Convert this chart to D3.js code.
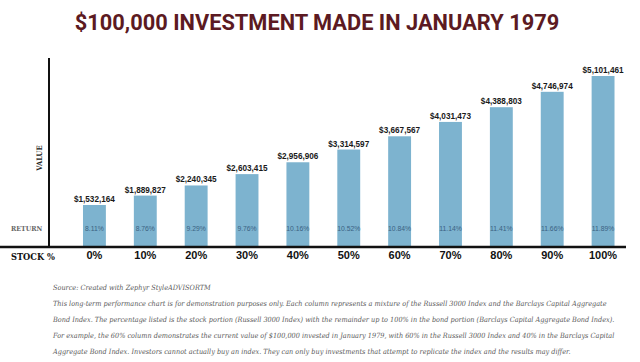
<!DOCTYPE html>
<html>
<head>
<meta charset="utf-8">
<script src="https://cdn.jsdelivr.net/npm/d3@7"></script>
<style>
  body { margin: 0; background: #fff; }
  svg { display: block; }
</style>
</head>
<body>
<div id="chart"></div>
<script>
// Stock allocation categories, ending values and annualized returns
const stockPct = ["0%", "10%", "20%", "30%", "40%", "50%", "60%", "70%", "80%", "90%", "100%"];
const endValues = [1532164, 1889827, 2240345, 2603415, 2956906, 3314597, 3667567, 4031473, 4388803, 4746974, 5101461];
const returns = [8.11, 8.76, 9.29, 9.76, 10.16, 10.52, 10.84, 11.14, 11.41, 11.66, 11.89];

const title = "$100,000 INVESTMENT MADE IN JANUARY 1979";
const notes = [
    "Source: Created with Zephyr StyleADVISORTM",
    "This long-term performance chart is for demonstration purposes only. Each column represents a mixture of the Russell 3000 Index and the Barclays Capital Aggregate",
    "Bond Index. The percentage listed is the stock portion (Russell 3000 Index) with the remainder up to 100% in the bond portion (Barclays Capital Aggregate Bond Index).",
    "For example, the 60% column demonstrates the current value of $100,000 invested in January 1979, with 60% in the Russell 3000 Index and 40% in the Barclays Capital",
    "Aggregate Bond Index. Investors cannot actually buy an index. They can only buy investments that attempt to replicate the index and the results may differ."
];

const W = 640, H = 362;
const baseY = 247;

const svg = d3.select("#chart")
              .append("svg")
              .attr("width", W)
              .attr("height", H);

const data = stockPct.map((s, i) => ({stock: s, value: endValues[i], ret: returns[i]}));

const x = d3.scaleBand()
            .domain(stockPct)
            .range([69, 628.5])
            .paddingInner(0.55)
            .paddingOuter(0.275);

// the original columns grow a bit faster than linear
const y = d3.scalePow()
            .exponent(1.5)
            .domain([0, d3.max(endValues)])
            .range([230.4, 76]);

// title
svg.append("text")
   .attr("x", 317)
   .attr("y", 29.5)
   .attr("text-anchor", "middle")
   .attr("font-family", "Roboto, 'Liberation Sans', sans-serif")
   .attr("font-weight", "bold")
   .attr("font-size", 21.8)
   .attr("fill", "#5c1a22")
   .text(title);

// bars
svg.selectAll("rect.bar")
   .data(data)
   .enter()
   .append("rect")
   .attr("class", "bar")
   .attr("x", d => x(d.stock))
   .attr("y", d => y(d.value))
   .attr("width", x.bandwidth())
   .attr("height", d => baseY - y(d.value))
   .attr("fill", "#7db3cf");

// value labels
svg.selectAll("text.val")
   .data(data)
   .enter()
   .append("text")
   .attr("class", "val")
   .attr("x", d => x(d.stock) + x.bandwidth() / 2)
   .attr("y", d => y(d.value) - 3)
   .attr("text-anchor", "middle")
   .attr("font-family", "'Liberation Sans', sans-serif")
   .attr("font-weight", "bold")
   .attr("font-size", 8.2)
   .attr("fill", "#1a1a1a")
   .text(d => d3.format("$,")(d.value));

// return labels inside bars
svg.selectAll("text.ret")
   .data(data)
   .enter()
   .append("text")
   .attr("class", "ret")
   .attr("x", d => x(d.stock) + x.bandwidth() / 2)
   .attr("y", 230.5)
   .attr("text-anchor", "middle")
   .attr("font-family", "'Liberation Sans', sans-serif")
   .attr("font-size", 6.8)
   .attr("fill", "#3b6282")
   .text(d => d.ret.toFixed(2) + "%");

// axes lines
svg.append("line")
   .attr("x1", 49).attr("x2", 49)
   .attr("y1", 58).attr("y2", baseY)
   .attr("stroke", "#111")
   .attr("stroke-width", 2);

const xAxis = svg.append("g")
                 .attr("transform", `translate(0,${baseY})`)
                 .call(d3.axisBottom(x).tickSize(0).tickPadding(4.5));
xAxis.select(".domain").remove();
xAxis.selectAll("text")
     .attr("font-family", "'Liberation Sans', sans-serif")
     .attr("font-weight", "bold")
     .attr("font-size", 11)
     .attr("fill", "#111");

svg.append("line")
   .attr("x1", 0).attr("x2", 626)
   .attr("y1", baseY).attr("y2", baseY)
   .attr("stroke", "#111")
   .attr("stroke-width", 2.6);

// row labels
svg.append("text")
   .attr("x", 11)
   .attr("y", 259.5)
   .attr("font-family", "'DejaVu Serif Condensed', 'DejaVu Serif', serif")
   .attr("font-weight", "bold")
   .attr("font-size", 9.2)
   .attr("fill", "#111")
   .text("STOCK %");

svg.append("text")
   .attr("x", 11)
   .attr("y", 231)
   .attr("font-family", "'DejaVu Serif Condensed', 'DejaVu Serif', serif")
   .attr("font-weight", "bold")
   .attr("font-size", 7)
   .attr("fill", "#666")
   .text("RETURN");

svg.append("text")
   .attr("transform", "translate(42,158) rotate(-90)")
   .attr("text-anchor", "middle")
   .attr("font-family", "'DejaVu Serif Condensed', 'DejaVu Serif', serif")
   .attr("font-weight", "bold")
   .attr("font-size", 7.5)
   .attr("fill", "#222")
   .text("VALUE");

// footnotes
svg.selectAll("text.note")
   .data(notes)
   .enter()
   .append("text")
   .attr("class", "note")
   .attr("x", 53)
   .attr("y", (d, i) => 290 + i * 16)
   .attr("font-family", "'DejaVu Serif Condensed', 'DejaVu Serif', serif")
   .attr("font-style", "italic")
   .attr("font-size", 7.25)
   .attr("fill", "#5a5a5a")
   .text(d => d);
</script>
</body>
</html>
